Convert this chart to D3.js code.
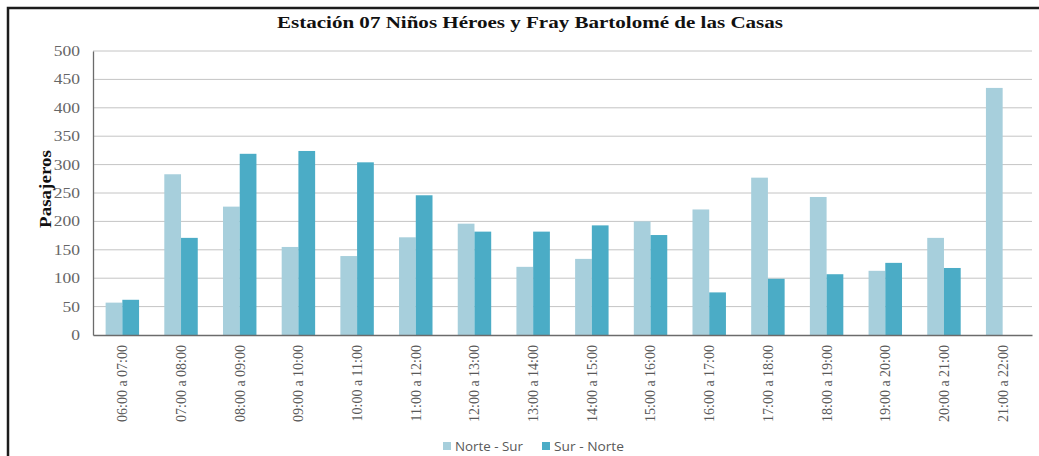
<!DOCTYPE html>
<html>
<head>
<meta charset="utf-8">
<script src="https://cdn.jsdelivr.net/npm/d3@7"></script>
<style>
  body { margin: 0; background: #fff; }
  svg { display: block; }
</style>
</head>
<body>
<script>
const categories = [
  '06:00 a 07:00', '07:00 a 08:00', '08:00 a 09:00', '09:00 a 10:00',
  '10:00 a 11:00', '11:00 a 12:00', '12:00 a 13:00', '13:00 a 14:00',
  '14:00 a 15:00', '15:00 a 16:00', '16:00 a 17:00', '17:00 a 18:00',
  '18:00 a 19:00', '19:00 a 20:00', '20:00 a 21:00', '21:00 a 22:00'
];
const norteSur = [57, 283, 226, 155, 139, 172, 196, 120, 134, 200, 221, 277, 243, 113, 171, 435];
const surNorte = [62, 171, 319, 324, 304, 246, 182, 182, 193, 176, 75, 99, 107, 127, 118, 0];
const seriesNames = ['Norte - Sur', 'Sur - Norte'];
const yTicks = [0, 50, 100, 150, 200, 250, 300, 350, 400, 450, 500];

const width = 1039;
const height = 456;
const COLORS = ['#a7cfdc', '#4bacc6'];
const TEXT_GRAY = '#595959';

const margin = { left: 93, right: 7, top: 51, bottom: 121 };
const plotW = width - margin.left - margin.right;
const plotH = height - margin.top - margin.bottom;

const svg = d3.select('body')
  .append('svg')
  .attr('width', width)
  .attr('height', height);

// frame: only left + top edges are inside the picture
svg.append('rect')
  .attr('x', 8).attr('y', 8)
  .attr('width', width + 20).attr('height', height + 20)
  .attr('fill', '#fff')
  .attr('stroke', '#1c1c1c')
  .attr('stroke-width', 2.5);

svg.append('text')
  .attr('x', 530).attr('y', 28)
  .attr('text-anchor', 'middle')
  .attr('font-family', 'Liberation Serif, Times New Roman, serif')
  .attr('font-weight', 'bold')
  .attr('font-size', 17)
  .attr('textLength', 506)
  .attr('lengthAdjust', 'spacingAndGlyphs')
  .attr('fill', '#111')
  .text('Estación 07 Niños Héroes y Fray Bartolomé de las Casas');

const x0 = d3.scaleBand()
  .domain(categories)
  .range([0, plotW])
  .paddingInner(0.43)
  .paddingOuter(0.215);

const x1 = d3.scaleBand()
  .domain(seriesNames)
  .range([0, x0.bandwidth()]);

const y = d3.scaleLinear()
  .domain([0, 500])
  .range([plotH, 0]);

const g = svg.append('g')
  .attr('transform', `translate(${ margin.left },${ margin.top })`);

// gridlines
g.append('g')
  .selectAll('line')
  .data(yTicks.filter(d => d > 0))
  .enter()
  .append('line')
  .attr('x1', 0).attr('x2', plotW)
  .attr('y1', d => y(d)).attr('y2', d => y(d))
  .attr('stroke', '#c4c4c4')
  .attr('stroke-width', 1);

// y axis
const yAxis = g.append('g')
  .call(d3.axisLeft(y).tickValues(yTicks).tickSize(0).tickPadding(13));

yAxis.select('.domain')
  .attr('stroke', '#6b6b6b')
  .attr('stroke-width', 1.3);

yAxis.selectAll('text')
  .attr('font-family', 'Liberation Serif, Times New Roman, serif')
  .attr('font-size', 14)
  .attr('fill', '#666')
  .attr('transform', 'scale(1.25,1)')
  .attr('x', -10.5);

const groups = seriesNames.map((name, i) => ({
  name,
  values: i === 0 ? norteSur : surNorte
}));

groups.forEach((s, i) => {
  g.append('g')
    .selectAll('rect')
    .data(s.values)
    .enter()
    .append('rect')
    .attr('x', (d, j) => x0(categories[j]) + x1(s.name))
    .attr('y', d => y(d))
    .attr('width', x1.bandwidth())
    .attr('height', d => plotH - y(d))
    .attr('fill', COLORS[i]);
});

// x axis
const xAxis = g.append('g')
  .attr('transform', `translate(0,${ plotH })`)
  .call(d3.axisBottom(x0).tickSize(0).tickPadding(10));

xAxis.select('.domain')
  .attr('stroke', '#6b6b6b')
  .attr('stroke-width', 1.5);

xAxis.selectAll('text')
  .attr('font-family', 'Liberation Serif, Times New Roman, serif')
  .attr('font-size', 14)
  .attr('fill', TEXT_GRAY)
  .attr('text-anchor', 'end')
  .attr('transform', 'rotate(-90)')
  .attr('x', -10)
  .attr('y', 0)
  .attr('dy', '0.35em');

svg.append('text')
  .attr('transform', 'translate(51,189) rotate(-90)')
  .attr('text-anchor', 'middle')
  .attr('font-family', 'Liberation Serif, Times New Roman, serif')
  .attr('font-weight', 'bold')
  .attr('font-size', 17)
  .attr('textLength', 78)
  .attr('lengthAdjust', 'spacingAndGlyphs')
  .attr('fill', '#111')
  .text('Pasajeros');

// legend
const legend = svg.append('g')
  .attr('transform', 'translate(443,0)');

const legendX = [0, 99];
seriesNames.forEach((name, i) => {
  const item = legend.append('g')
    .attr('transform', `translate(${ legendX[i] },0)`);
  item.append('rect')
    .attr('x', 0).attr('y', 442)
    .attr('width', 8).attr('height', 8)
    .attr('fill', COLORS[i]);
  item.append('text')
    .attr('x', 12).attr('y', 451)
    .attr('font-family', 'Open Sans, sans-serif')
    .attr('font-size', 13)
    .attr('textLength', i === 0 ? 68 : 70)
    .attr('lengthAdjust', 'spacingAndGlyphs')
    .attr('fill', TEXT_GRAY)
    .text(name);
});
</script>
</body>
</html>
